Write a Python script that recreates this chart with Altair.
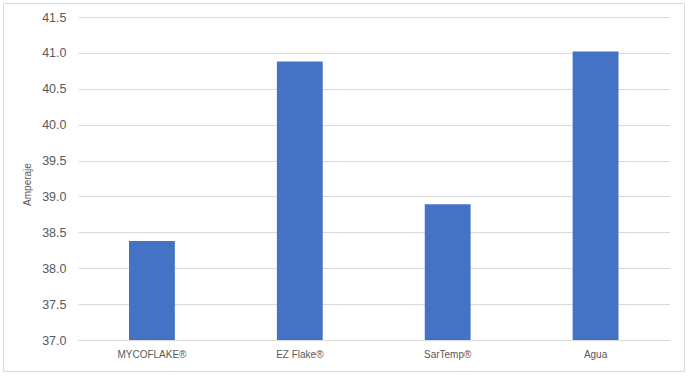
import altair as alt
import pandas as pd

categories = ["MYCOFLAKE®", "EZ Flake®", "SarTemp®", "Agua"]
values = [38.38, 40.88, 38.89, 41.02]
y_ticks = [37.0, 37.5, 38.0, 38.5, 39.0, 39.5, 40.0, 40.5, 41.0, 41.5]

df = pd.DataFrame({"cat": categories, "val": values})

FONT = "Liberation Sans"
TXT = "#595959"
GRID = "#d9d9d9"

W = 591.5
H = 323

bars = alt.Chart(df).mark_bar(color="#4472C4").encode(
    x=alt.X("cat:N", sort=categories,
            scale=alt.Scale(paddingInner=0.69, paddingOuter=0.345),
            axis=alt.Axis(title=None, labelAngle=0, ticks=False, labelPadding=9,
                          labelFontSize=10, labelColor=TXT, labelFont=FONT,
                          domainColor=GRID, domainWidth=1, grid=False)),
    y=alt.Y("val:Q", scale=alt.Scale(domain=[37.0, 41.5], nice=False, zero=False, clamp=True),
            axis=alt.Axis(title="Amperaje", values=y_ticks, format=".1f",
                          ticks=False, domain=False, labelPadding=12,
                          labelFontSize=12.5, labelColor=TXT, labelFont=FONT,
                          gridColor=GRID, gridWidth=1,
                          titleFont=FONT, titleFontSize=10, titleColor=TXT,
                          titleFontWeight="normal", titleAngle=270,
                          titleX=-48, titleY=167, titleBaseline="alphabetic",
                          titleAlign="center")),
)

border = alt.Chart(pd.DataFrame({"a": [0]})).mark_rect(
    fill=None, stroke=GRID, strokeWidth=1
).encode(
    x=alt.value(-74.5), x2=alt.value(606.5),
    y=alt.value(-13.5), y2=alt.value(354.5),
)

chart = alt.layer(border, bars).properties(
    width=W, height=H,
    autosize=alt.AutoSizeParams(type="none"),
    padding={"left": 78, "top": 17, "right": 19.5, "bottom": 36},
    background="white",
).configure_view(stroke=None)

chart.save("out.html", embed_options={"renderer": "svg", "actions": False})
